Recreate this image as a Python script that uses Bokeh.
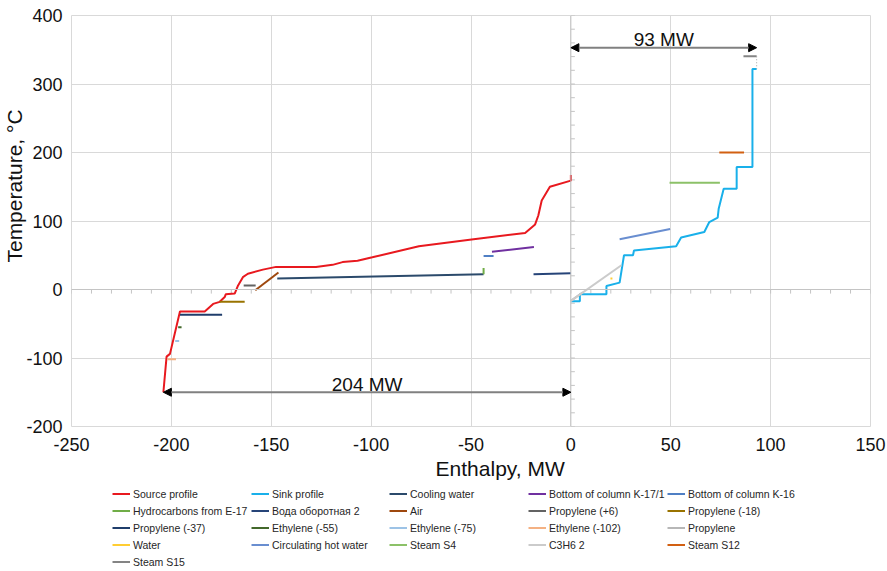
from bokeh.plotting import figure
from bokeh.layouts import column
from bokeh.models import Range1d, FixedTicker, Legend, LegendItem, Span, Arrow, NormalHead
from bokeh.embed import file_html
from bokeh.resources import INLINE
from bokeh.core.properties import value

# ---------------- data ----------------
source_h = [-204, -202.4, -200.7, -195.7, -183.3, -179.1, -175.8, -173.3, -172.8, -168.3,
            -166.6, -164.2, -161.7, -154.2, -147.6, -127.6, -119.3, -114.3, -106.8, -99.4,
            -76.1, -49.7, -22.9, -17.9, -16.3, -14.6, -10.5, 0, 0]
source_t = [-150, -98, -94, -32, -32, -21, -18, -11, -7, -6,
            6, 18, 23, 29, 33, 33, 36, 40, 42, 47,
            63, 73, 82.5, 95, 108, 130, 150, 159, 167]

sink_h = [0, 4.5, 4.5, 17.8, 17.8, 24.4, 26.6, 31.1, 31.6, 52.7, 55.2, 66.8, 69.3,
          73.5, 74, 76.5, 83, 83, 90.9, 90.9, 93]
sink_t = [-17, -17, -7, -7, 5, 10, 50, 50, 57, 63, 76, 84, 98.5,
          105, 118, 147, 147, 179, 179, 322, 322]

stream_names = ["Cooling water", "Bottom of column K-17/1", "Bottom of column K-16",
                "Hydrocarbons from E-17", "Вода оборотная 2", "Air", "Propylene (+6)",
                "Propylene (-18)", "Propylene (-37)", "Ethylene (-55)", "Ethylene (-75)",
                "Ethylene (-102)", "Propylene", "Water", "Circulating hot water",
                "Steam S4", "C3H6 2", "Steam S12", "Steam S15"]
stream_h = [[-147, -43.7], [-39.5, -18.5], [-43.7, -38.7],
            [-43.7, -43.7], [-18.7, 0], [-158, -146.4], [-163.8, -157.8],
            [-175.8, -163.3], [-195.7, -174.6], [-196.6, -194.9], [-198.1, -196.1],
            [-202, -197.7], [0, 6], [19.8, 20.8], [24.4, 49.7],
            [49.4, 74.6], [0, 25.3], [74.3, 86.7], [86.4, 93]]
stream_t = [[16, 22.3], [55, 62], [49, 49],
            [22.3, 31.5], [22.3, 23.8], [-1, 24.8], [6, 6],
            [-18, -18], [-37, -37], [-55, -55], [-75, -75],
            [-102, -102], [-16.6, -4.1], [16, 16], [73.3, 88.3],
            [156, 156], [-16.6, 35.4], [200, 200], [340.5, 340.5]]
stream_colors = ["#2b4a6b", "#7030a0", "#4f7fc4",
                 "#70ad47", "#264478", "#9e480e", "#636363",
                 "#997300", "#1f3d6b", "#43682b", "#9dc3e6",
                 "#f4b183", "#b7b7b7", "#ffcd33", "#698ed0",
                 "#8cc168", "#cbcbcb", "#d26012", "#848484"]
source_color = "#e8191f"
sink_color = "#19b0ea"

steam_s15_link_h = [93, 93]
steam_s15_link_t = [340.5, 322]

x_ticks = [-250, -200, -150, -100, -50, 0, 50, 100, 150]
y_ticks = [-200, -100, 0, 100, 200, 300, 400]
x_axis_marks = list(range(-250, 151, 10))
y_axis_marks = list(range(-200, 401, 20))

source_deficit = 204   # MW, arrow at T = -150
sink_demand = 93       # MW, arrow at T = 353
deficit_arrow_t = -150
demand_arrow_t = 353

# ---------------- main figure ----------------
FONT = "Liberation Sans"
NBSP = "\u00a0"
W = 887
MAIN_H = 482
LEG_H = 571 - MAIN_H
p = figure(width=W, height=MAIN_H, x_range=Range1d(-250, 150), y_range=Range1d(-200, 400),
           output_backend="svg", toolbar_location=None,
           min_border_left=68, min_border_right=17, min_border_top=15, min_border_bottom=MAIN_H - 427)
p.outline_line_color = "#d9d9d9"
p.background_fill_color = "white"
p.border_fill_color = "white"

p.xaxis.ticker = FixedTicker(ticks=x_ticks)
p.yaxis.ticker = FixedTicker(ticks=y_ticks)
p.xaxis.major_label_overrides = {v: str(v) for v in x_ticks}
p.yaxis.major_label_overrides = {v: str(v) for v in y_ticks}
for ax in (p.xaxis, p.yaxis):
    ax.axis_line_color = None
    ax.major_tick_line_color = None
    ax.minor_tick_line_color = None
    ax.major_label_text_font = FONT
    ax.major_label_text_font_size = "18px"
    ax.major_label_text_color = "#111111"
    ax.axis_label_text_font = FONT
    ax.axis_label_text_font_size = "21px"
    ax.axis_label_text_font_style = "normal"
    ax.axis_label_text_color = "#111111"
# leading no-break spaces shift the titles off-centre, as in the original
p.xaxis.axis_label = NBSP * 10 + "Enthalpy, MW"
p.yaxis.axis_label = NBSP * 12 + "Temperature, °C"
p.xaxis.major_label_standoff = 5
p.xaxis.axis_label_standoff = 3
p.yaxis.major_label_standoff = 3
p.yaxis.axis_label_standoff = -3

p.xgrid.ticker = FixedTicker(ticks=x_ticks)
p.ygrid.ticker = FixedTicker(ticks=y_ticks)
p.grid.grid_line_color = "#d9d9d9"
p.grid.grid_line_width = 1

# axes through zero
p.add_layout(Span(location=0, dimension="width", line_color="#c4c4c4", line_width=1))
p.add_layout(Span(location=0, dimension="height", line_color="#c4c4c4", line_width=1))
p.segment(x0=x_axis_marks, y0=[0] * len(x_axis_marks), x1=x_axis_marks, y1=[-6] * len(x_axis_marks),
          line_color="#c4c4c4", line_width=1)
p.segment(x0=[0] * len(y_axis_marks), y0=y_axis_marks, x1=[2] * len(y_axis_marks), y1=y_axis_marks,
          line_color="#c4c4c4", line_width=1)

p.line(source_h, source_t, line_color=source_color, line_width=2)
p.line(sink_h, sink_t, line_color=sink_color, line_width=2)
for h, t, c in zip(stream_h, stream_t, stream_colors):
    p.line(h, t, line_color=c, line_width=2)
p.line(steam_s15_link_h, steam_s15_link_t, line_color="#a6a6a6", line_width=1, line_dash="1 2")

# arrows and labels
head = dict(size=8, fill_color="black", line_color="black")
p.add_layout(Arrow(x_start=-source_deficit, y_start=deficit_arrow_t, x_end=0, y_end=deficit_arrow_t,
                   line_color="#808080", line_width=2,
                   start=NormalHead(**head), end=NormalHead(**head)))
p.add_layout(Arrow(x_start=0, y_start=demand_arrow_t, x_end=sink_demand, y_end=demand_arrow_t,
                   line_color="#808080", line_width=2,
                   start=NormalHead(**head), end=NormalHead(**head)))
p.text(x=[-source_deficit / 2, sink_demand / 2], y=[deficit_arrow_t, demand_arrow_t],
       text=[f"{source_deficit} MW", f"{sink_demand} MW"],
       text_align="center", text_baseline="alphabetic", y_offset=-8,
       text_font=value(FONT), text_font_size="19px", text_color="#111111")

# ---------------- legend strip ----------------
lf = figure(width=W, height=LEG_H, x_range=Range1d(0, 1), y_range=Range1d(0, 1),
            x_axis_type=None, y_axis_type=None,
            output_backend="svg", toolbar_location=None, min_border=0)
lf.grid.visible = False
lf.outline_line_color = None
lf.background_fill_color = "white"
lf.border_fill_color = "white"

labels = ["Source profile", "Sink profile"] + stream_names
colors = [source_color, sink_color] + stream_colors
# legend keys: lines styled like the chart series, kept outside this strip's visible range
key_renderers = [lf.line([5, 6], [5, 6], line_color=c, line_width=2) for c in colors]

col_x = [41, 180, 318, 457, 596]
row_h = 17
top_gap = 3
for c in range(5):
    idx = list(range(c, len(labels), 5))
    items = [LegendItem(label=labels[i], renderers=[key_renderers[i]]) for i in idx]
    hgt = row_h * len(idx)
    leg = Legend(items=items, location=(col_x[c], LEG_H - top_gap - hgt),
                 orientation="vertical", padding=0, margin=0, spacing=0,
                 glyph_width=18, glyph_height=row_h, label_height=row_h, label_standoff=3,
                 label_text_font=FONT, label_text_font_size="10.5px", label_text_color="#262626",
                 border_line_color=None, background_fill_alpha=0)
    lf.add_layout(leg)

open("out.html", "w").write(file_html(column(p, lf, spacing=0), INLINE))
